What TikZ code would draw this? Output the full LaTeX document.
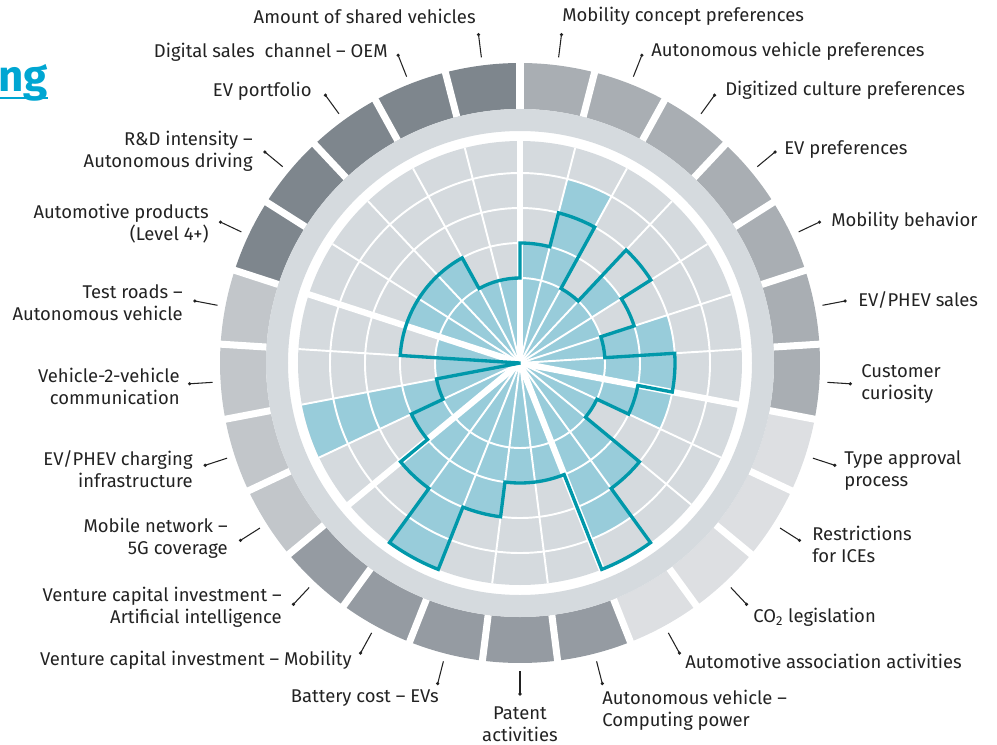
\documentclass[tikz,border=0pt]{standalone}
\usepackage{fontspec}
\setmainfont{Fira Sans}
\usetikzlibrary{positioning,calc}
\definecolor{cellgray}{HTML}{D5DADE}
\definecolor{cellblue}{HTML}{98CCDA}
\definecolor{tealline}{HTML}{0098AA}
\definecolor{ringdark}{HTML}{7E868D}
\definecolor{ringmid}{HTML}{A9AEB3}
\definecolor{ringpale}{HTML}{DDDFE2}
\definecolor{ringlow}{HTML}{959BA2}
\definecolor{ringside}{HTML}{C2C6CA}
\definecolor{labelgray}{HTML}{222222}
\definecolor{titlecyan}{HTML}{00A6D2}

\begin{document}
\begin{tikzpicture}[x=0.02cm, y=0.02cm,
    lbl/.style={font=\fontsize{10.5}{12.5}\selectfont, text=labelgray, inner sep=0pt},
    lead/.style={labelgray, line width=0.6pt},
    gridline/.style={white, line width=1.1pt},
    sep/.style={white, line width=3.6pt},
    outline/.style={tealline, line width=1.9pt, line join=miter}]
    \useasboundingbox (-520,-381) rectangle (477,363);

      % Outer ring
      \foreach \i/\c in {0/ringmid, 1/ringmid, 2/ringmid, 3/ringmid, 4/ringmid, 5/ringmid, 6/ringmid,
        7/ringpale, 8/ringpale, 9/ringpale, 10/ringpale,
        11/ringlow, 12/ringlow, 13/ringlow, 14/ringlow, 15/ringlow,
        16/ringside, 17/ringside, 18/ringside, 19/ringside,
        20/ringdark, 21/ringdark, 22/ringdark, 23/ringdark, 24/ringdark}
      \fill[\c] ({90-14.4*\i}:300) arc[start angle={90-14.4*\i}, end angle={90-14.4*(\i+1)}, radius=300]
        -- ({90-14.4*(\i+1)}:254) arc[start angle={90-14.4*(\i+1)}, end angle={90-14.4*\i}, radius=254] -- cycle;
      \foreach \i in {0, ..., 24}
      \draw[white, line width=4pt] ({90-14.4*\i}:254) -- ({90-14.4*\i}:305);

      % Inner ring
      \fill[cellgray, even odd rule] (0,0) circle (254) (0,0) circle (232);

      % Cells
      \fill[cellgray] (0,0) circle (222);
      \foreach \i/\f in {0/120, 1/190, 2/85, 3/120, 4/85, 5/155, 6/155, 7/155, 8/85, 9/155,
        10/190, 11/120, 12/120, 13/155, 14/222, 15/155, 16/120, 17/222, 18/85, 19/85,
        20/120, 21/120, 22/120, 23/85, 24/85}
      \fill[cellblue] (0,0) -- ({90-14.4*\i}:\f)
        arc[start angle={90-14.4*\i}, end angle={90-14.4*(\i+1)}, radius=\f] -- cycle;

      % Grid
      \foreach \r in {85, 120, 155, 190}
      \draw[gridline] (0,0) circle (\r);
      \foreach \i in {0, ..., 24}
      \draw[gridline] (0,0) -- ({90-14.4*\i}:222);
      \foreach \i in {0, 7, 11, 16, 20}
      \draw[sep] (0,0) -- ({90-14.4*\i}:226);

      % Benchmark
      \draw[outline] (90:120)
        \foreach \r [count=\i from 0] in {120, 155, 85, 155, 120, 85, 155, 120, 85, 155,
          222, 120, 120, 155, 222, 155, 120, 85, 1, 120, 120, 120, 120, 85, 85}
        { -- ({90-14.4*\i}:\r) arc[start angle={90-14.4*\i}, end angle={90-14.4*(\i+1)}, radius=\r] }
        -- cycle;

      % Leaders
      \foreach \i in {0, ..., 24} {
        \coordinate (d\i) at ({82.8-14.4*\i}:331);
        \coordinate (e\i) at ({82.8-14.4*\i}:308);
        \draw[lead] (d\i) -- (e\i);
        \fill[labelgray] (d\i) circle (1.8);
      }

      % Labels
      \node[lbl, anchor=west] (l0) at (42, 347) {Mobility concept preferences};
      \node[lbl, anchor=west] (l1) at (131, 312) {Autonomous vehicle preferences};
      \node[lbl, anchor=west] (l2) at (205, 273) {Digitized culture preferences};
      \node[lbl, anchor=west] (l3) at (264, 213) {EV preferences};
      \node[lbl, anchor=west] (l4) at (311, 142) {Mobility behavior};
      \node[lbl, anchor=west] (l5) at (338, 63) {EV/PHEV sales};
      \node[lbl, anchor=west, align=left] (l6) at (341, -21) {Customer\\curiosity};
      \node[lbl, anchor=west, align=left] (l7) at (324, -108) {Type approval\\process};
      \node[lbl, anchor=west, align=left] (l8) at (292, -181) {Restrictions\\for ICEs};
      \node[lbl, anchor=west] (l9) at (233, -254) {CO\textsubscript{2} legislation};
      \node[lbl, anchor=west] (l10) at (165, -298) {Automotive association activities};
      \node[lbl, anchor=west, align=left] (l11) at (82, -347) {Autonomous vehicle –\\Computing power};
      \node[lbl, align=center] (l12) at (0, -361) {Patent\\activities};
      \node[lbl, anchor=east] (l13) at (-81, -335) {Battery cost – EVs};
      \node[lbl, anchor=east] (l14) at (-168, -297) {Venture capital investment – Mobility};
      \node[lbl, anchor=east, align=right] (l15) at (-238, -244) {Venture capital investment –\\Artificial intelligence};
      \node[lbl, anchor=east, align=right] (l16) at (-292, -175) {Mobile network –\\5G coverage};
      \node[lbl, anchor=east, align=right] (l17) at (-327, -106) {EV/PHEV charging\\infrastructure};
      \node[lbl, anchor=east, align=right] (l18) at (-340, -23) {Vehicle-2-vehicle\\communication};
      \node[lbl, anchor=east, align=right] (l19) at (-337, 60) {Test roads –\\Autonomous vehicle};
      \node[lbl, anchor=east, align=right] (l20) at (-311, 139) {Automotive products\\(Level 4+)};
      \node[lbl, anchor=east, align=right] (l21) at (-267, 212) {R\&D intensity –\\Autonomous driving};
      \node[lbl, anchor=east] (l22) at (-208, 272) {EV portfolio};
      \node[lbl, anchor=east] (l23) at (-132, 311) {Digital sales\ \ channel – OEM};
      \node[lbl, anchor=east] (l24) at (-44, 347) {Amount of shared vehicles};

      % Title
      \node[font=\fontsize{25}{30}\selectfont\bfseries, text=titlecyan, anchor=base east, inner sep=0pt]
        (title) at (-472, 271) {ng};
      \coordinate (ul) at (-520, 265);
      \draw[titlecyan, line width=1.7pt] (ul) -- (ul -| title.east);
  \end{tikzpicture}
\end{document}
